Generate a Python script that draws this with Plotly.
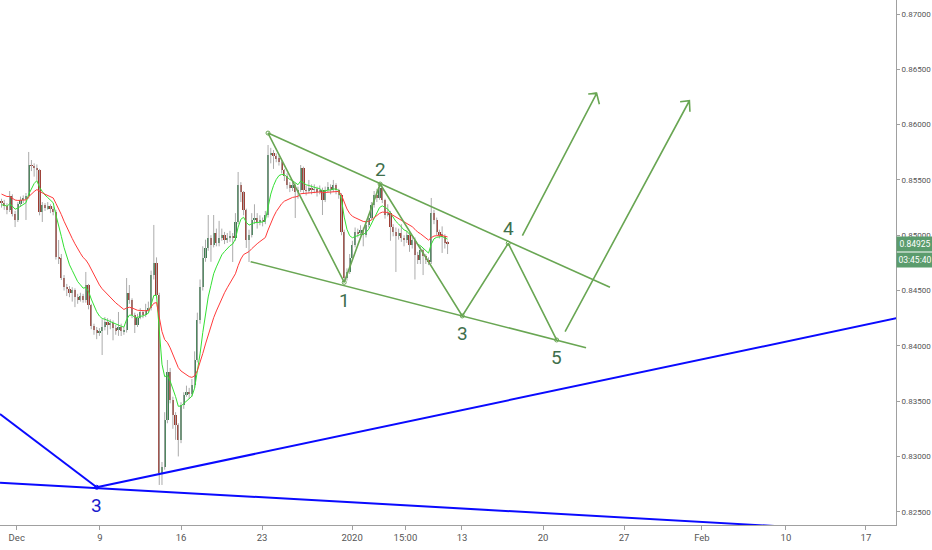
import plotly.graph_objects as go

# ---------------- data (4h candles) ----------------
first_open = 0.85301
close = [
    0.85292, 0.85264, 0.85228, 0.85355, 0.85192, 0.85138, 0.85282, 0.85319, 0.85328, 0.85355,
    0.85635, 0.85626, 0.85608, 0.85590, 0.85210, 0.85273, 0.85246, 0.85264, 0.85237, 0.85210,
    0.84803, 0.84794, 0.84613, 0.84532, 0.84514, 0.84478, 0.84505, 0.84442, 0.84414, 0.84451,
    0.84414, 0.84550, 0.84369, 0.84179, 0.84143, 0.84125, 0.84134, 0.84170, 0.84216, 0.84188,
    0.84207, 0.84161, 0.84143, 0.84170, 0.84134, 0.84143, 0.84478, 0.84414, 0.84279, 0.84188,
    0.84252, 0.84306, 0.84279, 0.84324, 0.84340, 0.84640, 0.84749, 0.84460, 0.82850, 0.82904,
    0.83329, 0.83763, 0.83510, 0.83375, 0.83284, 0.83148, 0.83465, 0.83556, 0.83583, 0.83565,
    0.83646, 0.83872, 0.84234, 0.84532, 0.84794, 0.84885, 0.84975, 0.84912, 0.85020, 0.84930,
    0.84975, 0.85002, 0.84957, 0.84975, 0.84993, 0.84975, 0.85120, 0.85454, 0.85391, 0.85228,
    0.84957, 0.85002, 0.85138, 0.85156, 0.85120, 0.85138, 0.85120, 0.85183, 0.85726, 0.85744,
    0.85716, 0.85698, 0.85662, 0.85590, 0.85536, 0.85454, 0.85427, 0.85454, 0.85391, 0.85409,
    0.85608, 0.85409, 0.85400, 0.85427, 0.85409, 0.85418, 0.85391, 0.85409, 0.85319, 0.85409,
    0.85436, 0.85409, 0.85454, 0.85409, 0.85364, 0.85029, 0.84613, 0.84668, 0.84794, 0.84912,
    0.85029, 0.85020, 0.85047, 0.85002, 0.85093, 0.85156, 0.85273, 0.85364, 0.85337, 0.85427,
    0.85319, 0.85183, 0.85201, 0.85074, 0.85029, 0.84993, 0.85020, 0.84975, 0.84957, 0.85002,
    0.84912, 0.84957, 0.84821, 0.84776, 0.84867, 0.84812, 0.84776, 0.84758, 0.85201, 0.85138,
    0.85029, 0.85011, 0.84993, 0.84930, 0.84925,
]
high = [
    0.85330, 0.85320, 0.85290, 0.85400, 0.85370, 0.85220, 0.85300, 0.85350, 0.85360, 0.85382,
    0.85753, 0.85680, 0.85650, 0.85640, 0.85600, 0.85300, 0.85290, 0.85300, 0.85280, 0.85260,
    0.85230, 0.84957, 0.84830, 0.84640, 0.84560, 0.84540, 0.84530, 0.84520, 0.84470, 0.84480,
    0.84470, 0.84668, 0.84560, 0.84380, 0.84200, 0.84170, 0.84160, 0.84240, 0.84260, 0.84250,
    0.84240, 0.84230, 0.84190, 0.84306, 0.84200, 0.84170, 0.84613, 0.84550, 0.84430, 0.84300,
    0.84290, 0.84340, 0.84320, 0.84380, 0.84400, 0.84680, 0.85093, 0.84800, 0.84480, 0.82950,
    0.83400, 0.83872, 0.83800, 0.83540, 0.83400, 0.83300, 0.83490, 0.83580, 0.83640, 0.83620,
    0.83700, 0.83950, 0.84300, 0.84600, 0.84900, 0.84960, 0.85183, 0.85000, 0.85183, 0.85060,
    0.85130, 0.85060, 0.85030, 0.85020, 0.85040, 0.85020, 0.85200, 0.85572, 0.85480, 0.85400,
    0.85240, 0.85050, 0.85200, 0.85280, 0.85200, 0.85180, 0.85160, 0.85220, 0.85816, 0.85790,
    0.85770, 0.85740, 0.85720, 0.85680, 0.85600, 0.85560, 0.85480, 0.85500, 0.85470, 0.85440,
    0.85635, 0.85620, 0.85450, 0.85500, 0.85460, 0.85460, 0.85440, 0.85450, 0.85430, 0.85440,
    0.85480, 0.85460, 0.85500, 0.85470, 0.85420, 0.85380, 0.85050, 0.84700, 0.84830, 0.84950,
    0.85070, 0.85060, 0.85090, 0.85070, 0.85130, 0.85190, 0.85300, 0.85400, 0.85420, 0.85472,
    0.85440, 0.85330, 0.85280, 0.85220, 0.85100, 0.85070, 0.85060, 0.85100, 0.85000, 0.85040,
    0.85030, 0.85000, 0.84980, 0.84850, 0.84900, 0.84880, 0.84830, 0.84800, 0.85337, 0.85230,
    0.85160, 0.85050, 0.85080, 0.85010, 0.84950,
]
low = [
    0.85250, 0.85230, 0.85190, 0.85210, 0.85170, 0.85074, 0.85120, 0.85260, 0.85290, 0.85138,
    0.85330, 0.85580, 0.85530, 0.85500, 0.85180, 0.85120, 0.85220, 0.85230, 0.85200, 0.85180,
    0.84780, 0.84740, 0.84595, 0.84500, 0.84450, 0.84440, 0.84400, 0.84350, 0.84380, 0.84400,
    0.84390, 0.84390, 0.84330, 0.84150, 0.84100, 0.84060, 0.84090, 0.83917, 0.84140, 0.84100,
    0.84150, 0.84050, 0.84100, 0.84090, 0.84089, 0.84100, 0.84120, 0.84380, 0.84250, 0.84116,
    0.84170, 0.84240, 0.84250, 0.84260, 0.84300, 0.84320, 0.84600, 0.84430, 0.82742, 0.82742,
    0.82880, 0.83300, 0.83480, 0.83250, 0.83150, 0.83000, 0.83120, 0.83430, 0.83540, 0.83520,
    0.83540, 0.83620, 0.83850, 0.84200, 0.84500, 0.84760, 0.84860, 0.84760, 0.84890, 0.84900,
    0.84900, 0.84950, 0.84920, 0.84930, 0.84940, 0.84758, 0.84950, 0.85100, 0.85300, 0.85180,
    0.84885, 0.84758, 0.84980, 0.85100, 0.85060, 0.85090, 0.85080, 0.85100, 0.85160, 0.85650,
    0.85600, 0.85660, 0.85630, 0.85560, 0.85490, 0.85420, 0.85390, 0.85400, 0.85156, 0.85330,
    0.85390, 0.85380, 0.85360, 0.85380, 0.85370, 0.85380, 0.85350, 0.85370, 0.85183, 0.85300,
    0.85390, 0.85370, 0.85390, 0.85370, 0.85330, 0.85000, 0.84574, 0.84590, 0.84650, 0.84770,
    0.84890, 0.84980, 0.85000, 0.84900, 0.84980, 0.85070, 0.85140, 0.85250, 0.85300, 0.85320,
    0.85290, 0.85150, 0.85170, 0.84950, 0.84990, 0.84668, 0.84960, 0.84940, 0.84900, 0.84930,
    0.84850, 0.84880, 0.84600, 0.84740, 0.84740, 0.84640, 0.84740, 0.84730, 0.84740, 0.85100,
    0.85000, 0.84970, 0.84840, 0.84880, 0.84830,
]
fast_period, fast_seed = 8, 0.85270
slow_period, slow_seed = 21, 0.85380
last_price_text = "0.84925"
countdown_text = "03:45:40"

# time axis (bar index positions of the calendar labels)
tick_pos = [5.6, 36.2, 66.0, 95.8, 128.9, 148.5, 169.3, 199.1, 228.9, 257.5, 288.4, 317.8]
tick_text = ["Dec", "9", "16", "23", "2020", "15:00", "13", "20", "27", "Feb", "10", "17"]
price_ticks = [0.825, 0.830, 0.835, 0.840, 0.845, 0.850, 0.855, 0.860, 0.865, 0.870]

# drawings (bar index, price)
wave_x = [97.98, 126.0, 139.2, 169.4, 186.3, 204.1]
wave_y = [0.85924, 0.84574, 0.85463, 0.84270, 0.84927, 0.84053]
wave_labels = ["", "1", "2", "3", "4", "5"]
upper_x, upper_y = [97.98, 223.7], [0.85924, 0.84529]
lower_x, lower_y = [91.6, 214.9], [0.84761, 0.83983]
arrow1_x = [191.5, 218.8, 215.7, 218.8, 219.8]
arrow1_y = [0.84996, 0.86283, 0.86277, 0.86283, 0.86184]
arrow2_x = [207.2, 252.9, 249.5, 252.9, 253.1]
arrow2_y = [0.84128, 0.86216, 0.86207, 0.86216, 0.86117]
blue_lines = [
    ((-0.55, 0.83384), (35.0, 0.82721)),
    ((35.0, 0.82721), (341.4, 0.84314)),
    ((-0.55, 0.82763), (293.6, 0.82358)),
]
blue_vertex = (35.0, 0.82721)
blue_label = "3"

X_RANGE = [-0.55, 328.86]
Y_RANGE = [0.82380, 0.87127]

GREEN_BODY = "#3c7f50"
RED_BODY = "#9e3a30"
WICK = "#ababab"
DRAW_GREEN = "#69a653"
LABEL_GREEN = "#3f6f4c"
BLUE = "#0a0aff"
FONT = "Roboto, sans-serif"

# ---------------- build ----------------
n = len(close)
xs = list(range(n))
opens = [first_open] + close[:-1]


def ema(values, period, seed):
    a = 2.0 / (period + 1)
    e = seed
    out = []
    for v in values:
        e = e + a * (v - e)
        out.append(e)
    return out


wx, wy = [], []
for i in range(n):
    wx += [i, i, None]
    wy += [low[i], high[i], None]

base = [min(o, c) for o, c in zip(opens, close)]
hgt = [max(abs(c - o), 0.000025) for o, c in zip(opens, close)]
cols = [GREEN_BODY if c >= o else RED_BODY for o, c in zip(opens, close)]

fig = go.Figure()
fig.add_trace(go.Scatter(x=wx, y=wy, mode="lines", line=dict(color=WICK, width=1),
                         hoverinfo="skip", showlegend=False))
fig.add_trace(go.Bar(x=xs, y=hgt, base=base, marker=dict(color=cols, line=dict(width=0)),
                     width=0.8, showlegend=False))
fig.add_trace(go.Scatter(x=xs, y=ema(close, fast_period, fast_seed), mode="lines",
                         line=dict(color="#33e033", width=1), showlegend=False))
fig.add_trace(go.Scatter(x=xs, y=ema(close, slow_period, slow_seed), mode="lines",
                         line=dict(color="#ff3a3a", width=1), showlegend=False))

# green drawings
for lx, ly in [(upper_x, upper_y), (lower_x, lower_y), (wave_x, wave_y),
               (arrow1_x, arrow1_y), (arrow2_x, arrow2_y)]:
    fig.add_trace(go.Scatter(x=lx, y=ly, mode="lines", line=dict(color=DRAW_GREEN, width=1.6),
                             hoverinfo="skip", showlegend=False))
fig.add_trace(go.Scatter(x=wave_x, y=wave_y, mode="markers",
                         marker=dict(symbol="circle-open", size=4, color=DRAW_GREEN, line=dict(width=1)),
                         hoverinfo="skip", showlegend=False))

# blue drawings
for (x0, y0), (x1, y1) in blue_lines:
    fig.add_shape(type="line", x0=x0, y0=y0, x1=x1, y1=y1, xref="x", yref="y",
                  line=dict(color=BLUE, width=2))
fig.add_trace(go.Scatter(x=[blue_vertex[0]], y=[blue_vertex[1]], mode="markers",
                         marker=dict(symbol="circle-open", size=4, color=BLUE, line=dict(width=1)),
                         hoverinfo="skip", showlegend=False))

annotations = []
for k in range(1, len(wave_x)):
    up = k % 2 == 0
    annotations.append(dict(x=wave_x[k], y=wave_y[k], xref="x", yref="y", text=wave_labels[k],
                             showarrow=False, yshift=(15 if up else -18),
                             font=dict(family=FONT, size=19, color=LABEL_GREEN)))
annotations.append(dict(x=blue_vertex[0], y=blue_vertex[1], xref="x", yref="y", text=blue_label,
                        showarrow=False, yshift=-18, font=dict(family=FONT, size=19, color="#1a1acc")))
annotations.append(dict(x=1, xref="paper", xanchor="left", y=close[-1], yref="y", text=last_price_text,
                        showarrow=False, bgcolor="#5b9c6d", width=36, height=14, borderpad=0,
                        font=dict(family=FONT, size=8.5, color="white")))
annotations.append(dict(x=1, xref="paper", xanchor="left", y=close[-1], yref="y", yshift=-16,
                        text=countdown_text, showarrow=False, bgcolor="#5b9c6d", width=36, height=14,
                        borderpad=0, font=dict(family=FONT, size=8.5, color="white")))

fig.update_layout(
    width=932, height=550,
    margin=dict(l=0, r=36, t=0, b=25),
    paper_bgcolor="white", plot_bgcolor="white",
    barmode="overlay", bargap=0,
    showlegend=False,
    annotations=annotations,
    xaxis=dict(range=X_RANGE, tickvals=tick_pos, ticktext=tick_text, showgrid=False, zeroline=False,
               showline=True, linecolor="#a0a0a0", ticks="outside", ticklen=4, tickcolor="#a0a0a0",
               tickfont=dict(family=FONT, size=9.5, color="#555555"), automargin=False, fixedrange=True),
    yaxis=dict(range=Y_RANGE, side="right", tickvals=price_ticks,
               ticktext=["%.5f" % v for v in price_ticks], showgrid=False, zeroline=False,
               showline=True, linecolor="#a0a0a0", ticks="outside", ticklen=3, tickcolor="#a0a0a0",
               tickfont=dict(family=FONT, size=8, color="#555555"), automargin=False),
)

fig.write_html("out.html", config={"displayModeBar": False},
               post_script="document.body.style.margin='0';document.body.style.overflow='hidden';")
